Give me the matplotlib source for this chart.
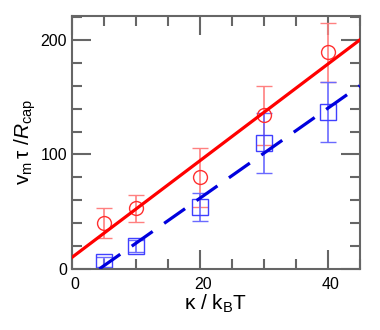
import matplotlib
matplotlib.use("Agg")
import matplotlib.pyplot as plt
import matplotlib.transforms as mtrans
from matplotlib.ticker import MultipleLocator

plt.rcParams['font.family'] = ['Liberation Sans', 'DejaVu Sans']
plt.rcParams['mathtext.fontset'] = 'custom'
plt.rcParams['mathtext.rm'] = 'Liberation Sans'
plt.rcParams['mathtext.it'] = 'Liberation Sans:italic'

kappa = [5, 10, 20, 30, 40]
red_y = [40, 53, 80, 134, 189]
red_err = [13, 12, 26, 26, 26]
blue_y = [6, 20, 54, 110, 137]
blue_err = [4, 5, 12.5, 26, 26]

red_fit_x = [0, 45]
red_fit = [10, 200]
blue_fit_x = [4.3, 45]
blue_fit = [0, 160]

fig = plt.figure(figsize=(3.8, 3.3), dpi=100)
ax = fig.add_axes([0.189, 0.185, 0.758, 0.767])

ax.plot(red_fit_x, red_fit, color='#ff0000', lw=2.3, zorder=3)
ax.plot(blue_fit_x, blue_fit, color='#0000dd', lw=2.3, dashes=(8.0, 4.4), zorder=3)

ax.errorbar(kappa, red_y, yerr=red_err, fmt='o', ms=10, mfc='none',
            mec='#ff3030', mew=1.0, ecolor='#ff8080', elinewidth=1.2,
            capsize=6, capthick=1.2, zorder=2)
ax.errorbar(kappa, blue_y, yerr=blue_err, fmt='s', ms=11, mfc='none',
            mec='#4040ff', mew=1.0, ecolor='#6a6aff', elinewidth=1.2,
            capsize=6, capthick=1.2, zorder=2)

ax.set_xlim(0, 45)
ax.set_ylim(0, 221)
ax.xaxis.set_major_locator(MultipleLocator(20))
ax.xaxis.set_minor_locator(MultipleLocator(5))
ax.yaxis.set_major_locator(MultipleLocator(100))
ax.yaxis.set_minor_locator(MultipleLocator(20))

for s in ax.spines.values():
    s.set_color('#666666')
    s.set_linewidth(1.5)
ax.tick_params(which='both', direction='in', top=True, right=True,
               color='#666666', width=1.5, labelsize=11.5)
ax.tick_params(which='major', length=14)
ax.tick_params(which='minor', length=7)
ax.tick_params(axis='x', pad=6)
for lab in ax.get_xticklabels():
    lab.set_transform(lab.get_transform() + mtrans.ScaledTranslation(3/100, 0, fig.dpi_scale_trans))

ax.set_xlabel('κ / k$_{\\mathrm{B}}$T', fontsize=15, labelpad=0)
ax.set_ylabel(r'$\mathrm{v}_{\mathrm{m}}\,\mathrm{\tau}\ /R_{\mathrm{cap}}$', fontsize=15, labelpad=2)

fig.savefig('out.png', dpi=100)
